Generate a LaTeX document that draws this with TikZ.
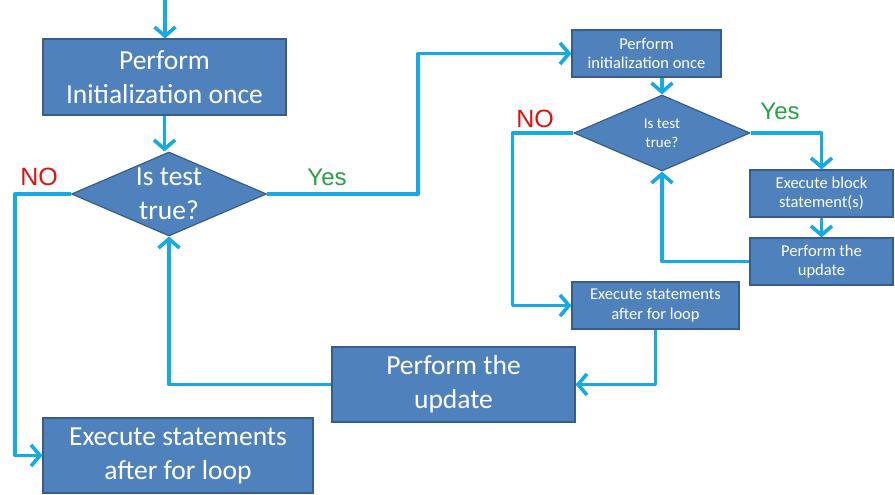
\documentclass[tikz,border=0pt]{standalone}
\usepackage{fontspec}
\setmainfont{Carlito}
\newfontfamily\labelfont{Liberation Sans}
\usetikzlibrary{arrows.meta,shapes.geometric}
\definecolor{boxfill}{RGB}{79,129,189}
\definecolor{boxline}{RGB}{56,93,138}
\definecolor{flow}{RGB}{22,170,226}
\definecolor{nored}{RGB}{220,20,20}
\definecolor{yesgreen}{RGB}{40,160,70}
\tikzset{
  bigfont/.style={font=\fontsize{27.5}{34}\selectfont},
  smallfont/.style={font=\fontsize{16.5}{19.5}\selectfont},
  bigbox/.style={draw=boxline, line width=1.2pt, fill=boxfill, text=white,
    align=center, inner sep=0pt, bigfont},
  smallbox/.style={draw=boxline, line width=1.2pt, fill=boxfill, text=white,
    align=center, inner sep=0pt, smallfont},
  dia/.style={draw=boxline, line width=1.2pt, fill=boxfill, shape=diamond,
    inner sep=0pt},
  diatext/.style={text=white, align=center, inner sep=0pt},
  flowline/.style={draw=flow, line width=3.6pt, line join=round,
    -{Straight Barb[length=9pt,width=21pt]}},
  nolabel/.style={text=nored, font=\labelfont\fontsize{25}{30}\selectfont},
  yeslabel/.style={text=yesgreen, font=\labelfont\fontsize{24}{30}\selectfont}
}
\begin{document}
\begin{tikzpicture}[x=1pt,y=-1pt]
\useasboundingbox (0,0) rectangle (895,495);

% outer loop
\node[bigbox, minimum width=243pt, minimum height=76pt] (initA) at (164.5,77)
  {Perform\\Initialization once};
\node[dia, minimum width=195pt, minimum height=84pt] (testA) at (169,194) {};
\node[diatext, bigfont] (testAtxt) at (testA) {Is test\\true?};
\node[bigbox, minimum width=270pt, minimum height=75pt] (afterA) at (178,455.5)
  {Execute statements\\after for loop};
\node[bigbox, minimum width=243pt, minimum height=75pt] (updA) at (453.5,384.5)
  {Perform the\\update};

% inner loop
\node[smallbox, minimum width=149pt, minimum height=47pt] (initB) at (646.5,53.5)
  {Perform\\initialization once};
\node[dia, minimum width=176pt, minimum height=76pt] (testB) at (662,133) {};
\node[diatext, font=\fontsize{15}{19}\selectfont] (testBtxt) at (testB) {Is test\\true?};
\node[smallbox, minimum width=143pt, minimum height=47pt] (execB) at (821.5,193.5)
  {Execute block\\statement(s)};
\node[smallbox, minimum width=143pt, minimum height=47pt] (updB) at (821.5,261.5)
  {Perform the\\update};
\node[smallbox, minimum width=167pt, minimum height=47pt] (afterB) at (655.5,305.5)
  {Execute statements\\after for loop};

% branch labels
\node[nolabel] (noA) at (39,177) {NO};
\node[yeslabel] (yesA) at (327,177) {Yes};
\node[nolabel] (noB) at (535,119) {NO};
\node[yeslabel] (yesB) at (780,111) {Yes};

% connectors
\coordinate (start) at (165,0);
\draw[flowline] (start) -- (start |- initA.north);
\draw[flowline] (initA.south) -- (initA.south |- testA.north);
\draw[flowline] (testA.east) -- ++(151,0) |- (initB.west);
\draw[flowline] (testA.west) -- ++(-56,0) |- (afterA.west);
\draw[flowline] (testB.north |- initB.south) -- (testB.north);
\draw[flowline] (testB.east) -| (execB.north);
\draw[flowline] (execB.south) -- (updB.north);
\draw[flowline] (updB.west) -| (testB.south);
\draw[flowline] (testB.west) -- ++(-61,0) |- (afterB.west);
\draw[flowline] (afterB.south) |- (updA.east);
\draw[flowline] (updA.west) -| (testA.south);
\end{tikzpicture}
\end{document}
